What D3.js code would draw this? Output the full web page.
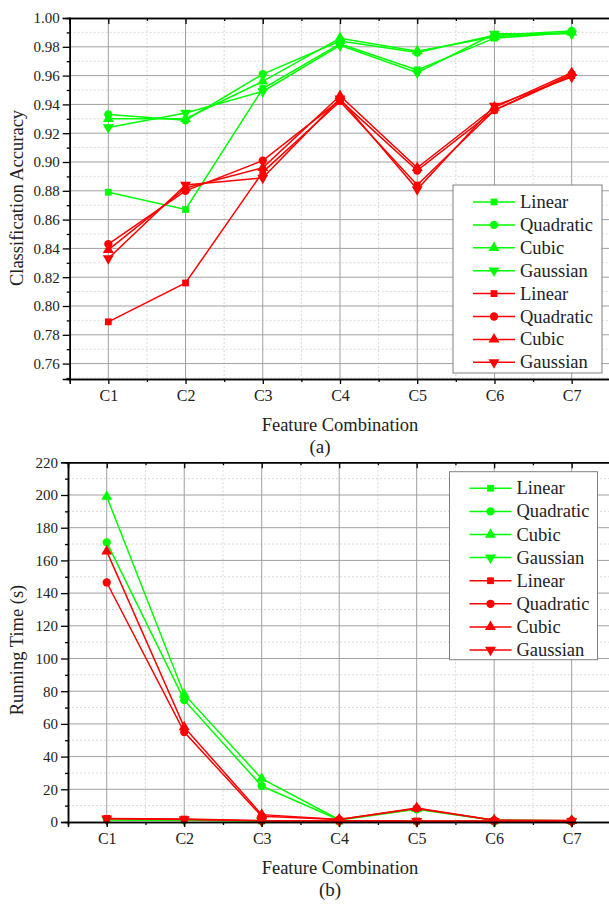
<!DOCTYPE html>
<html>
<head>
<meta charset="utf-8">
<script src="https://cdn.jsdelivr.net/npm/d3@7"></script>
<style>
  body { margin: 0; background: #fff; }
</style>
</head>
<body>
<div id="chart"></div>
<script>
// Feature combinations on the x axis
const categories = ["C1", "C2", "C3", "C4", "C5", "C6", "C7"];

// Classification accuracy, green group
const accGreenLinear    = [0.879, 0.867, 0.951, 0.982, 0.964, 0.986, 0.990];
const accGreenQuadratic = [0.933, 0.929, 0.961, 0.984, 0.976, 0.988, 0.991];
const accGreenCubic     = [0.930, 0.930, 0.956, 0.986, 0.977, 0.987, 0.990];
const accGreenGaussian  = [0.924, 0.934, 0.949, 0.981, 0.962, 0.989, 0.989];
// Classification accuracy, red group
const accRedLinear      = [0.789, 0.816, 0.893, 0.942, 0.884, 0.936, 0.960];
const accRedQuadratic   = [0.843, 0.880, 0.901, 0.943, 0.894, 0.936, 0.961];
const accRedCubic       = [0.839, 0.882, 0.896, 0.946, 0.896, 0.938, 0.962];
const accRedGaussian    = [0.833, 0.884, 0.889, 0.944, 0.881, 0.939, 0.959];

// Running time (s), green group
const timeGreenLinear    = [1.5, 1.2, 0.6, 0.4, 0.5, 0.5, 0.3];
const timeGreenQuadratic = [171, 74.5, 22, 1.2, 7.8, 1.0, 0.7];
const timeGreenCubic     = [199, 78, 26.5, 1.4, 8.0, 1.1, 0.8];
const timeGreenGaussian  = [1.3, 1.0, 0.5, 0.4, 0.4, 0.4, 0.3];
// Running time (s), red group
const timeRedLinear      = [2.2, 1.8, 0.8, 0.7, 0.6, 0.6, 0.5];
const timeRedQuadratic   = [146.5, 55, 3.5, 1.5, 8.3, 1.0, 0.8];
const timeRedCubic       = [165.5, 58, 4.5, 1.6, 8.6, 1.1, 0.9];
const timeRedGaussian    = [2.0, 1.6, 0.7, 0.6, 0.5, 0.5, 0.4];

// Axis ticks
const accTicks = [0.76, 0.78, 0.80, 0.82, 0.84, 0.86, 0.88, 0.90, 0.92, 0.94, 0.96, 0.98, 1.00];
const timeTicks = [0, 20, 40, 60, 80, 100, 120, 140, 160, 180, 200, 220];

const GREEN = "#00ff00", RED = "#ff0000";
const FONT = "Liberation Serif";

// Build series tables from the arrays above
const accSeries = [
  {name: "Linear", colour: GREEN, values: accGreenLinear},
  {name: "Quadratic", colour: GREEN, values: accGreenQuadratic},
  {name: "Cubic", colour: GREEN, values: accGreenCubic},
  {name: "Gaussian", colour: GREEN, values: accGreenGaussian},
  {name: "Linear", colour: RED, values: accRedLinear},
  {name: "Quadratic", colour: RED, values: accRedQuadratic},
  {name: "Cubic", colour: RED, values: accRedCubic},
  {name: "Gaussian", colour: RED, values: accRedGaussian}
];
const timeSeries = [
  {name: "Linear", colour: GREEN, values: timeGreenLinear},
  {name: "Quadratic", colour: GREEN, values: timeGreenQuadratic},
  {name: "Cubic", colour: GREEN, values: timeGreenCubic},
  {name: "Gaussian", colour: GREEN, values: timeGreenGaussian},
  {name: "Linear", colour: RED, values: timeRedLinear},
  {name: "Quadratic", colour: RED, values: timeRedQuadratic},
  {name: "Cubic", colour: RED, values: timeRedCubic},
  {name: "Gaussian", colour: RED, values: timeRedGaussian}
];

const svg = d3.select("#chart").append("svg")
  .attr("width", 609)
  .attr("height", 909)
  .attr("font-family", FONT)
  .style("display", "block");

// Marker shape for each kernel
function markerPath(name) {
  if (name === "Linear") return d3.symbol(d3.symbolSquare, 46)();
  if (name === "Quadratic") return d3.symbol(d3.symbolCircle, 54)();
  return d3.symbol(d3.symbolTriangle, 52)();
}
function markerTransform(name, x, y) {
  return name === "Gaussian" ? `translate(${x},${y}) rotate(180)` : `translate(${x},${y})`;
}

function drawPanel(opts) {
  const {left, right, top, bottom, yDomain, ticks, minorStep, fmt, series,
         yTitle, yTitleY, caption, captionX, legend} = opts;

  const x = d3.scaleLinear().domain([0.5, 7.5]).range([left, right]);
  const y = d3.scaleLinear().domain(yDomain).range([bottom, top]);

  const g = svg.append("g");

  const minorY = d3.range(ticks[0] - minorStep, yDomain[1] + 1e-9, minorStep * 2)
    .map(v => +v.toFixed(4))
    .filter(v => v > yDomain[0] && v < yDomain[1]);
  const majorX = d3.range(1, 8);
  const minorX = d3.range(1.5, 7.5, 1);

  // Grid: dashed minor, solid major
  const grid = g.append("g");
  grid.selectAll(".minh").data(minorY).join("line")
    .attr("x1", left).attr("x2", right)
    .attr("y1", d => y(d)).attr("y2", d => y(d))
    .attr("stroke", "#cfcfcf").attr("stroke-dasharray", "2,2").attr("stroke-width", 0.8);
  grid.selectAll(".minv").data(minorX).join("line")
    .attr("y1", top).attr("y2", bottom)
    .attr("x1", d => x(d)).attr("x2", d => x(d))
    .attr("stroke", "#cfcfcf").attr("stroke-dasharray", "2,2").attr("stroke-width", 0.8);
  grid.selectAll(".majh").data(ticks.filter(v => v > yDomain[0] && v < yDomain[1])).join("line")
    .attr("x1", left).attr("x2", right)
    .attr("y1", d => y(d)).attr("y2", d => y(d))
    .attr("stroke", "#a0a0a0").attr("stroke-width", 1);
  grid.selectAll(".majv").data(majorX).join("line")
    .attr("y1", top).attr("y2", bottom)
    .attr("x1", d => x(d)).attr("x2", d => x(d))
    .attr("stroke", "#a0a0a0").attr("stroke-width", 1);

  // Series lines then markers
  const line = d3.line().x((_, i) => x(i + 1)).y(d => y(d));
  const sg = g.append("g").selectAll("g").data(series).join("g");
  sg.append("path")
    .attr("d", d => line(d.values))
    .attr("fill", "none")
    .attr("stroke", d => d.colour)
    .attr("stroke-width", 1.5);
  sg.each(function(s) {
    d3.select(this).selectAll("path.mk").data(s.values).join("path")
      .attr("class", "mk")
      .attr("d", markerPath(s.name))
      .attr("transform", (v, i) => markerTransform(s.name, x(i + 1), y(v)))
      .attr("fill", s.colour);
  });

  // Axes
  const axisStyle = sel => {
    sel.attr("font-family", FONT);
    sel.select(".domain").attr("stroke", "#000").attr("stroke-width", 1.5);
    sel.selectAll(".tick line").attr("stroke", "#000").attr("stroke-width", 1.3);
    sel.selectAll("text").attr("font-family", FONT).attr("fill", "#222");
  };

  g.append("g").attr("transform", `translate(${left},0)`)
    .call(d3.axisLeft(y).tickValues(minorY).tickSize(3).tickFormat(""))
    .call(axisStyle);
  g.append("g").attr("transform", `translate(${left},0)`)
    .call(d3.axisLeft(y).tickValues(ticks).tickSize(7).tickPadding(3).tickFormat(fmt))
    .call(axisStyle)
    .selectAll("text").attr("font-size", 15);

  g.append("g").attr("transform", `translate(${right},0)`)
    .call(d3.axisLeft(y).tickValues(minorY).tickSize(-3).tickFormat(""))
    .call(axisStyle);
  g.append("g").attr("transform", `translate(${right},0)`)
    .call(d3.axisLeft(y).tickValues(ticks).tickSize(-6).tickFormat(""))
    .call(axisStyle);

  g.append("g").attr("transform", `translate(0,${bottom})`)
    .call(d3.axisBottom(x).tickValues(minorX).tickSize(3).tickFormat(""))
    .call(axisStyle);
  g.append("g").attr("transform", `translate(0,${bottom})`)
    .call(d3.axisBottom(x).tickValues(majorX).tickSize(5).tickPadding(6).tickFormat(d => categories[d - 1]))
    .call(axisStyle)
    .selectAll("text").attr("font-size", 16);

  g.append("g").attr("transform", `translate(0,${top})`)
    .call(d3.axisBottom(x).tickValues(minorX).tickSize(3).tickFormat(""))
    .call(axisStyle);
  g.append("g").attr("transform", `translate(0,${top})`)
    .call(d3.axisBottom(x).tickValues(majorX).tickSize(6).tickFormat(""))
    .call(axisStyle);

  // Titles
  g.append("text")
    .attr("transform", `translate(23,${yTitleY}) rotate(-90)`)
    .attr("text-anchor", "middle")
    .attr("font-family", FONT)
    .attr("font-size", 18.5)
    .attr("fill", "#222")
    .text(yTitle);
  g.append("text")
    .attr("x", 340).attr("y", bottom + 52)
    .attr("text-anchor", "middle")
    .attr("font-family", FONT)
    .attr("font-size", 18.5)
    .attr("fill", "#222")
    .text("Feature Combination");
  g.append("text")
    .attr("x", captionX).attr("y", bottom + 74)
    .attr("text-anchor", "middle")
    .attr("font-family", FONT)
    .attr("font-size", 19)
    .attr("fill", "#222")
    .text(caption);

  // Legend
  const lg = g.append("g");
  lg.append("rect")
    .attr("x", legend.x).attr("y", legend.y)
    .attr("width", legend.w).attr("height", legend.h)
    .attr("fill", "#fff").attr("stroke", "#808080").attr("stroke-width", 1);
  const items = lg.selectAll("g").data(series).join("g")
    .attr("transform", (_, i) => `translate(${legend.x},${legend.y + legend.first + i * legend.dy})`);
  items.append("line")
    .attr("x1", 20).attr("x2", 62)
    .attr("stroke", d => d.colour).attr("stroke-width", 1.5);
  items.append("path")
    .attr("d", d => markerPath(d.name))
    .attr("transform", d => markerTransform(d.name, 41, 0))
    .attr("fill", d => d.colour);
  items.append("text")
    .attr("x", 67).attr("y", 6)
    .attr("font-family", FONT)
    .attr("font-size", 18.5)
    .attr("fill", "#222")
    .text(d => d.name);
}

drawPanel({
  left: 69.7, right: 610.3, top: 18, bottom: 379,
  yDomain: [0.7493, 1.0], ticks: accTicks, minorStep: 0.01, fmt: d3.format(".2f"),
  series: accSeries, yTitle: "Classification Accuracy", yTitleY: 198,
  caption: "(a)", captionX: 320,
  legend: {x: 453, y: 185, w: 149, h: 188, first: 17, dy: 22.9}
});

drawPanel({
  left: 68, right: 610.4, top: 462.3, bottom: 822,
  yDomain: [0, 220], ticks: timeTicks, minorStep: 10, fmt: d3.format("d"),
  series: timeSeries, yTitle: "Running Time (s)", yTitleY: 650,
  caption: "(b)", captionX: 330,
  legend: {x: 449.5, y: 471.7, w: 148, h: 188, first: 16.6, dy: 23.1}
});
</script>
</body>
</html>
